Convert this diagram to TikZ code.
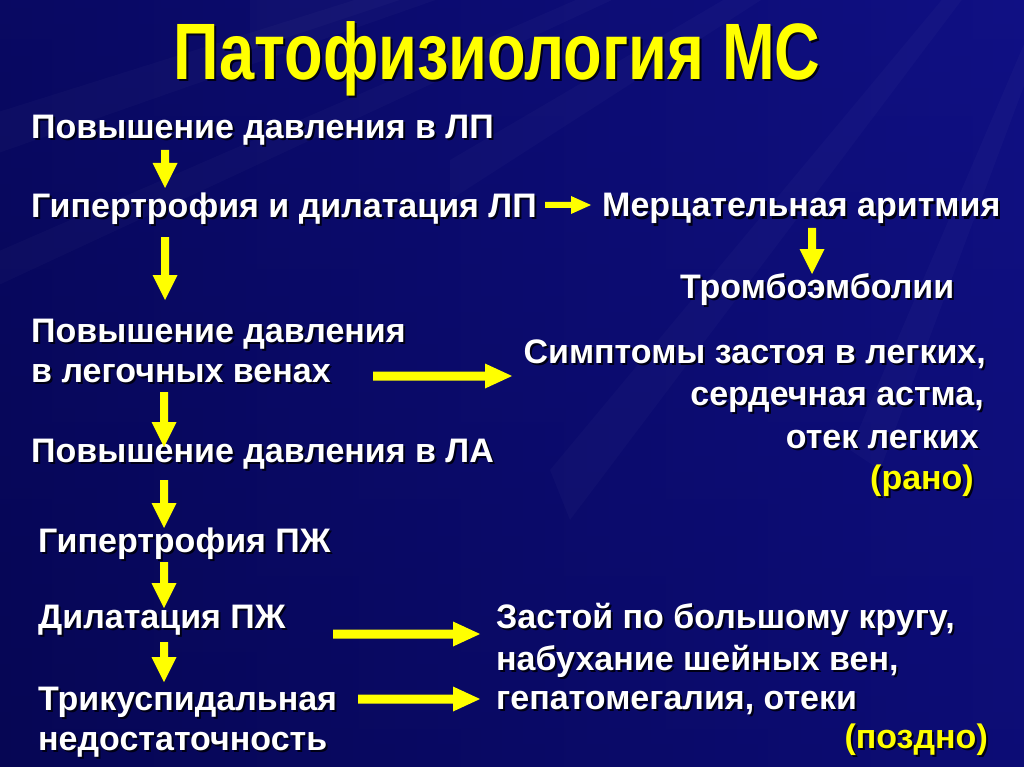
\documentclass[tikz,border=0pt]{standalone}
\usepackage{fontspec}
\setmainfont{Liberation Sans}
\newfontfamily\titlefont[FakeStretch=0.79]{Liberation Sans}
\usetikzlibrary{calc}
\definecolor{bgA}{RGB}{6,6,84}
\definecolor{bgB}{RGB}{16,16,132}
\definecolor{ayellow}{RGB}{255,255,0}
\definecolor{shadowc}{RGB}{0,0,20}
\newcommand\sh[1]{\leavevmode\rlap{\kern2pt\raisebox{-2pt}{\textcolor{shadowc}{#1}}}#1}
% block arrow: from, to, shaft half width, head half width, head length (all in pt)
\newcommand\blockarrow[5]{%
  \path coordinate (bah) at ($(#2)!#5pt!(#1)$);
  \fill[arrowfill] ($(#1)!#3pt!90:(#2)$) -- ($(bah)!#3pt!-90:(#1)$) -- ($(bah)!#4pt!-90:(#1)$) -- (#2)
    -- ($(bah)!#4pt!90:(#1)$) -- ($(bah)!#3pt!90:(#1)$) -- ($(#1)!#3pt!-90:(#2)$) -- cycle;}
\begin{document}
\begin{tikzpicture}[x=1pt,y=-1pt,
  txt/.style={text=white, font=\bfseries\fontsize{34}{40}\selectfont, inner sep=0pt},
  ytxt/.style={txt, text=ayellow},
  arrowfill/.style={fill=ayellow},
  ray/.style={fill=white, opacity=0.025}]
\useasboundingbox (0,0) rectangle (1024,767);
% background
\shade[left color=bgA, right color=bgB] (0,0) rectangle (1024,767);
\shade[top color=bgB, bottom color=bgA, opacity=0.3] (0,0) rectangle (1024,767);
\begin{scope}
\clip (0,0) rectangle (1024,767);
\coordinate (rc) at (1150,-250);
\fill[ray] (rc) -- ($(rc)+(-1700,740)$) -- ($(rc)+(-1700,790)$) -- cycle;
\fill[ray] (rc) -- ($(rc)+(-1400,440)$) -- ($(rc)+(-1400,490)$) -- cycle;
\fill[ray] (rc) -- ($(rc)+(-900,250)$) -- ($(rc)+(-900,300)$) -- cycle;
\fill[ray] (rc) -- ($(rc)+(-700,410)$) -- ($(rc)+(-700,450)$) -- cycle;
\fill[ray] (rc) -- ($(rc)+(-600,720)$) -- ($(rc)+(-580,770)$) -- cycle;
\fill[ray] (rc) -- ($(rc)+(-300,700)$) -- ($(rc)+(-270,720)$) -- cycle;
\end{scope}
% title
\node[inner sep=0pt, anchor=base, text=ayellow, font=\titlefont\bfseries\fontsize{80}{90}\selectfont] (title) at (497,80) {\sh{Патофизиология МС}};
% left column
\node[txt, anchor=base west] (l1) at (31,139) {\sh{Повышение давления в ЛП}};
\node[txt, anchor=base west] (l2) at (31,218) {\sh{Гипертрофия и дилатация ЛП}};
\node[txt, anchor=base west] (l3a) at (31,342) {\sh{Повышение давления}};
\node[txt, anchor=base west] (l3b) at (31,382) {\sh{в легочных венах}};
\node[txt, anchor=base west] (l4) at (31,462) {\sh{Повышение давления в ЛА}};
\node[txt, anchor=base west] (l5) at (38,552) {\sh{Гипертрофия ПЖ}};
\node[txt, anchor=base west] (l6) at (38,628) {\sh{Дилатация ПЖ}};
\node[txt, anchor=base west] (l7a) at (38,710) {\sh{Трикуспидальная}};
\node[txt, anchor=base west] (l7b) at (38,750) {\sh{недостаточность}};
% right column
\node[txt, anchor=base west] (r1) at (602,217) {\sh{Мерцательная аритмия}};
\node[txt, anchor=base west] (r2) at (680,298) {\sh{Тромбоэмболии}};
\node[txt, anchor=base east] (r3a) at (986,363) {\sh{Симптомы застоя в легких,}};
\node[txt, anchor=base east] (r3b) at (984,405) {\sh{сердечная астма,}};
\node[txt, anchor=base east] (r3c) at (979,448) {\sh{отек легких}};
\node[ytxt, anchor=base east] (r3d) at (974,489) {\sh{(рано)}};
\node[txt, anchor=base west] (r4a) at (496,628) {\sh{Застой по большому кругу,}};
\node[txt, anchor=base west] (r4b) at (496,670) {\sh{набухание шейных вен,}};
\node[txt, anchor=base west] (r4c) at (496,709) {\sh{гепатомегалия, отеки}};
\node[ytxt, anchor=base east] (r4d) at (988,748) {\sh{(поздно)}};
% arrow end points
\coordinate (a1s) at (165,150); \coordinate (a1e) at (165,188);
\coordinate (a2s) at (165,237); \coordinate (a2e) at (165,300);
\coordinate (a3s) at (164,392); \coordinate (a3e) at (164,447);
\coordinate (a4s) at (164,480); \coordinate (a4e) at (164,528);
\coordinate (a5s) at (164,562); \coordinate (a5e) at (164,608);
\coordinate (a6s) at (164,642); \coordinate (a6e) at (164,682);
\coordinate (b1s) at (545,205); \coordinate (b1e) at (591,205);
\coordinate (b2s) at (812,228); \coordinate (b2e) at (812,274);
\coordinate (b3s) at (373,376); \coordinate (b3e) at (512,376);
\coordinate (b4s) at (333,634); \coordinate (b4e) at (480,634);
\coordinate (b5s) at (358,699); \coordinate (b5e) at (480,699);
\blockarrow{a1s}{a1e}{4}{12.5}{25}
\blockarrow{a2s}{a2e}{4}{12.5}{25}
\blockarrow{a3s}{a3e}{4}{12.5}{25}
\blockarrow{a4s}{a4e}{4}{12.5}{25}
\blockarrow{a5s}{a5e}{4}{12.5}{25}
\blockarrow{a6s}{a6e}{4}{12.5}{25}
\blockarrow{b1s}{b1e}{3}{9}{20}
\blockarrow{b2s}{b2e}{4}{12.5}{25}
\blockarrow{b3s}{b3e}{4.5}{12.5}{27}
\blockarrow{b4s}{b4e}{4.5}{12.5}{27}
\blockarrow{b5s}{b5e}{4.5}{12.5}{27}
\end{tikzpicture}
\end{document}
